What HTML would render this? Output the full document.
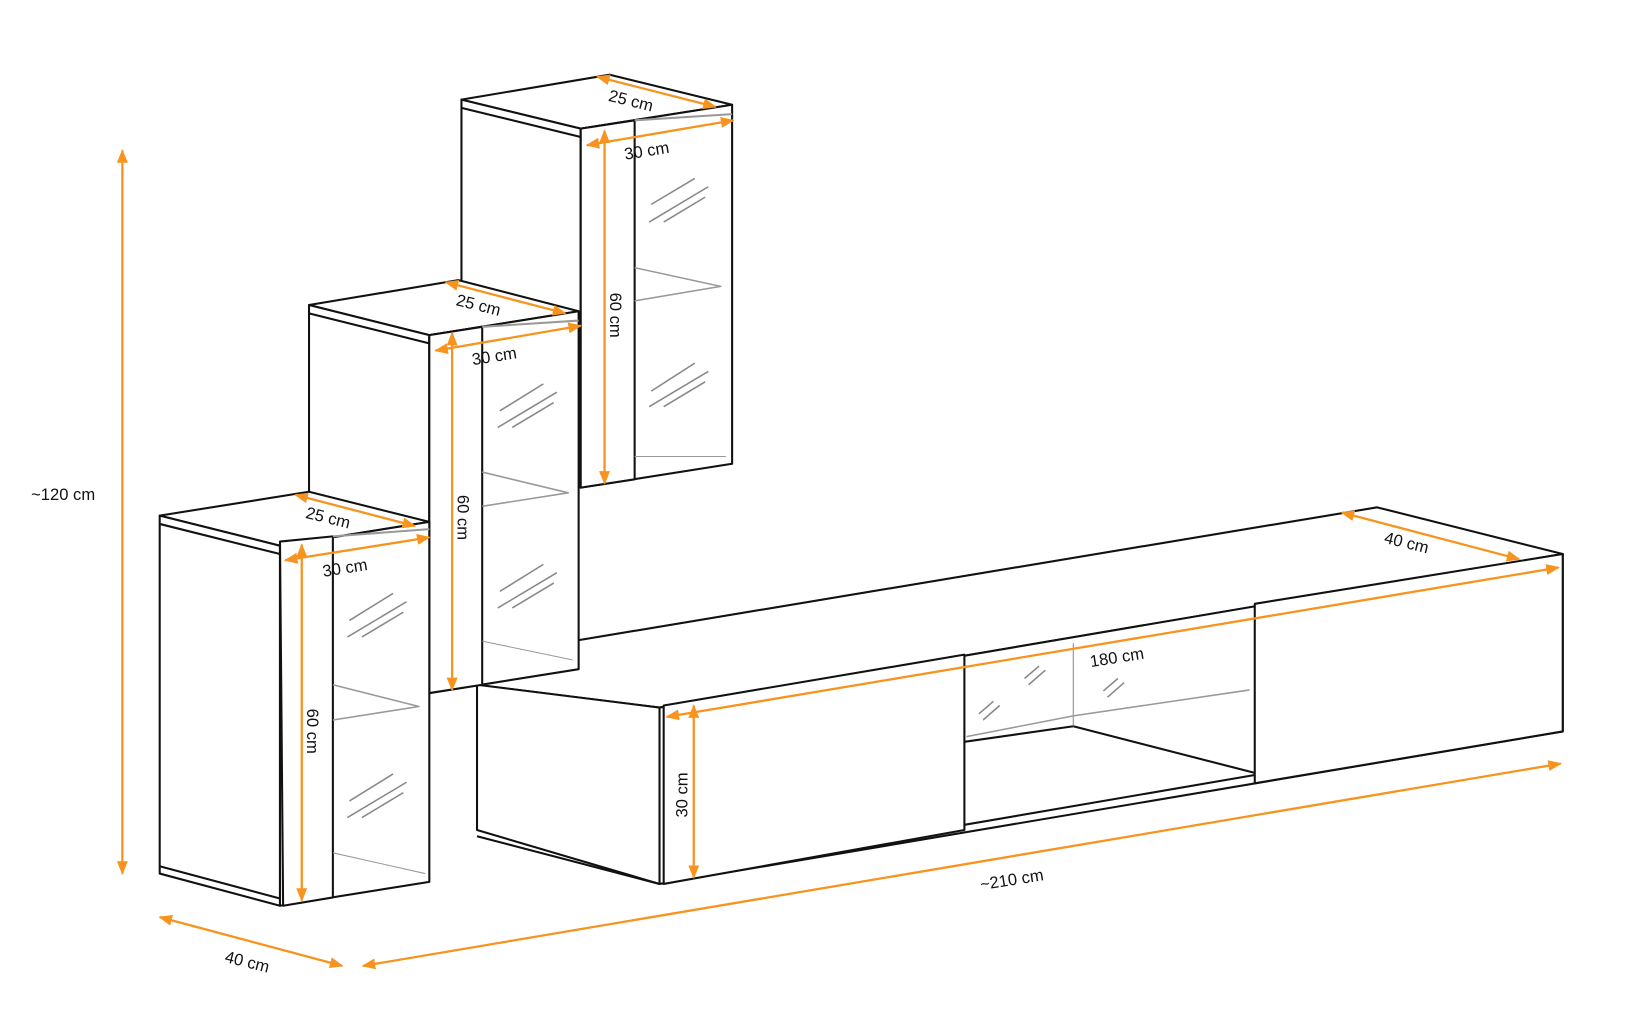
<!DOCTYPE html>
<html><head><meta charset="utf-8"><style>
html,body{margin:0;padding:0;background:#fff;}
svg{display:block}
text{font-family:"Liberation Sans",sans-serif;font-size:16px;fill:#111}
</style></head><body>
<svg width="1626" height="1024" viewBox="0 0 1568 987" preserveAspectRatio="none" xmlns="http://www.w3.org/2000/svg">
<defs>
<marker id="a" viewBox="0 0 10 10" refX="9" refY="5" markerWidth="6" markerHeight="6" orient="auto-start-reverse"><path d="M0,1 L10,5 L0,9 z" fill="#f7931e"/></marker>
</defs>
<g fill="#fff" stroke="#111" stroke-width="2" stroke-linejoin="round">
<!-- TV unit -->
<polygon points="460,660 540,620 1328,489 1507,534 636,682"/>
<polygon points="460,660 636,682 636,852 460,800"/>
<line x1="460" y1="806" x2="636" y2="852"/>
<polygon points="636,682 1507,534 1507,705 636,852"/>
<polygon points="640,680 930,631 930,800 640,852"/>
<polygon points="1210,582 1507,534 1507,705 1210,755"/>
<polyline fill="none" points="930,715 1035,700 1210,745"/>
<line x1="930" y1="795" x2="1210" y2="747"/>
<line x1="1035" y1="620" x2="1035" y2="700" stroke="#888" stroke-width="1"/>
<polyline fill="none" stroke="#999" stroke-width="1.5" points="932,710 1035,690 1205,665"/>
<!-- C3 -->
<polygon points="445,96 588,72 706,101 560,124"/>
<polygon points="445,96 560,124 560,470 445,440"/>
<line x1="445" y1="104" x2="560" y2="132"/>
<polygon points="560,124 706,101 706,447 560,470"/>
<polygon points="560,124 612,116 612,462 560,470"/>
<line x1="612" y1="116" x2="706" y2="110" stroke="#999"/>
<polyline fill="none" stroke="#999" stroke-width="1.5" points="612,290 695,276 612,258"/>
<line x1="612" y1="440" x2="700" y2="440" stroke="#999" stroke-width="1"/>
<!-- C2 -->
<polygon points="298,294 442,270 558,300 414,323"/>
<polygon points="298,294 414,323 414,668 298,640"/>
<line x1="298" y1="302" x2="414" y2="331"/>
<polygon points="414,323 558,300 558,645 414,668"/>
<polygon points="414,323 465,315 465,660 414,668"/>
<line x1="465" y1="315" x2="558" y2="309" stroke="#999"/>
<polyline fill="none" stroke="#999" stroke-width="1.5" points="465,488 548,475 465,455"/>
<line x1="465" y1="618" x2="552" y2="636" stroke="#999" stroke-width="1"/>
<!-- C1 -->
<polygon points="154,497 298,474 414,503 270,526"/>
<polygon points="154,497 270,526 270,873 154,842"/>
<line x1="154" y1="505" x2="270" y2="534"/>
<line x1="154" y1="835" x2="270" y2="866"/>
<polygon points="270,526 414,503 414,850 270,873"/>
<polygon points="270,522 321,517 321,865 273,873"/>
<line x1="321" y1="517" x2="414" y2="510" stroke="#999"/>
<polyline fill="none" stroke="#999" stroke-width="1.5" points="321,694 404,681 321,660"/>
<line x1="321" y1="822" x2="410" y2="842" stroke="#999" stroke-width="1"/>
</g>
<g stroke="#888" stroke-width="1.5">
<path d="M628,197 L670,172 M626,214 L683,180 M640,214 L680,190"/>
<path d="M628,377 L670,350 M626,392 L683,358 M640,392 L680,368"/>
<path d="M482,396 L524,370 M480,412 L537,378 M494,412 L534,388"/>
<path d="M482,570 L524,544 M480,586 L537,552 M494,586 L534,562"/>
<path d="M337,598 L379,572 M335,614 L392,580 M349,614 L389,590"/>
<path d="M337,772 L379,746 M335,788 L392,754 M349,788 L389,764"/>
<path d="M944,688 L958,676 M948,694 L964,680 M988,654 L1002,642 M992,660 L1008,646 M1064,666 L1078,654 M1068,672 L1084,658"/>
</g>
<g stroke="#f7931e" stroke-width="2.2" fill="none" marker-start="url(#a)" marker-end="url(#a)">
<line x1="118" y1="145" x2="118" y2="842"/>
<line x1="154" y1="884" x2="330" y2="931"/>
<line x1="350" y1="931" x2="1505" y2="736"/>
<line x1="576" y1="74" x2="690" y2="103"/>
<line x1="566" y1="140" x2="707" y2="116"/>
<line x1="583" y1="126" x2="583" y2="466"/>
<line x1="430" y1="272" x2="545" y2="302"/>
<line x1="420" y1="338" x2="560" y2="314"/>
<line x1="436" y1="321" x2="436" y2="665"/>
<line x1="285" y1="477" x2="400" y2="507"/>
<line x1="275" y1="540" x2="414" y2="518"/>
<line x1="291" y1="525" x2="291" y2="868"/>
<line x1="1294" y1="494" x2="1465" y2="539"/>
<line x1="643" y1="691" x2="1503" y2="547"/>
<line x1="669" y1="680" x2="669" y2="846"/>
</g>
<text x="30" y="482">~120 cm</text>
<text x="216" y="927" transform="rotate(14 216 927)">40 cm</text>
<text x="946" y="858" transform="rotate(-9 946 858)">~210 cm</text>
<text x="586" y="97" transform="rotate(14 586 97)">25 cm</text>
<text x="603" y="154" transform="rotate(-9 603 154)">30 cm</text>
<text x="439" y="294" transform="rotate(14 439 294)">25 cm</text>
<text x="456" y="352" transform="rotate(-9 456 352)">30 cm</text>
<text x="294" y="499" transform="rotate(14 294 499)">25 cm</text>
<text x="312" y="556" transform="rotate(-9 312 556)">30 cm</text>
<text x="1334" y="523" transform="rotate(14 1334 523)">40 cm</text>
<text x="1052" y="643" transform="rotate(-9 1052 643)">180 cm</text>
<text x="588" y="282" transform="rotate(90 588 282)">60 cm</text>
<text x="441" y="477" transform="rotate(90 441 477)">60 cm</text>
<text x="296" y="683" transform="rotate(90 296 683)">60 cm</text>
<text x="663" y="788" transform="rotate(-90 663 788)">30 cm</text>
</svg>
</body></html>
